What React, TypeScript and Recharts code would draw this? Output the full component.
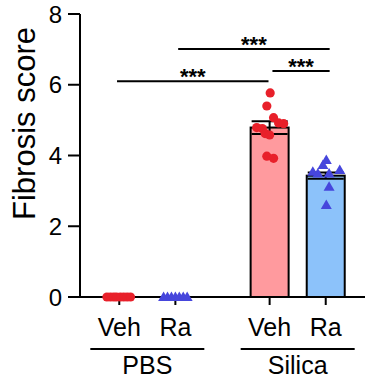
import React from "react"
import {
  ComposedChart,
  Bar,
  Scatter,
  ErrorBar,
  XAxis,
  YAxis,
  ReferenceLine,
} from "recharts"

// group positions on the x axis (numeric so the two treatments can sit apart)
const groupPos = [1, 2, 3.68, 4.68]
const groupLabels = ["Veh", "Ra", "Veh", "Ra"]
const groupMeans = [0, 0, 4.79, 3.43]
const groupSem = [0, 0, 0.18, 0.09]
const barColors = ["#ff9a9e", "#8cc2fa", "#ff9a9e", "#8cc2fa"]

const treatments = ["PBS", "Silica"]
const treatmentPos = [1.5, 4.18]

// individual animals
const pbsVehX = [0.78, 0.84, 0.9, 0.95, 1.02, 1.08, 1.14, 1.2]
const pbsVehY = [0, 0, 0, 0, 0, 0, 0, 0]
const pbsRaX = [1.79, 1.86, 1.93, 2.0, 2.07, 2.14, 2.21]
const pbsRaY = [0, 0, 0, 0, 0, 0, 0]
const silVehX = [3.69, 3.63, 3.75, 3.93, 3.84, 3.45, 3.55, 3.6, 3.68, 3.63, 3.75]
const silVehY = [5.77, 5.4, 5.07, 4.9, 4.92, 4.79, 4.76, 4.62, 4.58, 3.98, 3.92]
const silRaX = [4.69, 4.63, 4.45, 4.54, 4.93, 4.74, 4.74, 4.69]
const silRaY = [3.87, 3.73, 3.54, 3.49, 3.59, 3.49, 3.12, 2.6]

// significance brackets
const sigX1 = [0.96, 3.73, 2.05]
const sigX2 = [3.66, 4.75, 4.75]
const sigY = [6.1, 6.39, 7.01]
const sigText = ["***", "***", "***"]

const RED = "#e8202a"
const BLUE = "#4646dc"
const BAR_W = 38

const barData = groupPos.map((x, i) => ({ x, mean: groupMeans[i], sem: groupSem[i] }))
const meanData = barData.filter((d) => d.sem > 0).map((d) => ({ x: d.x, y: d.mean, sem: d.sem }))
const toPoints = (xs: number[], ys: number[]) => xs.map((x, i) => ({ x, y: ys[i] }))

const BarShape = (props: any) => {
  const { x, y, width, height, index } = props
  if (!height || height <= 0) return <g />
  const cx = x + width / 2
  return (
    <rect
      x={cx - BAR_W / 2}
      y={y}
      width={BAR_W}
      height={height}
      fill={barColors[index]}
      stroke="#000"
      strokeWidth={2}
    />
  )
}

const Dot = (props: any) => <circle cx={props.cx} cy={props.cy} r={4.6} fill={RED} />
const Tri = (props: any) => {
  const { cx, cy } = props
  return <polygon points={`${cx},${cy - 5.5} ${cx + 5.5},${cy + 4} ${cx - 5.5},${cy + 4}`} fill={BLUE} />
}
const NoShape = () => <g />

const TreatmentTick = (props: any) => {
  const { x, y, payload } = props
  const i = treatmentPos.indexOf(payload.value)
  return (
    <g>
      <line x1={x - 57} x2={x + 57} y1={y + 7} y2={y + 7} stroke="#000" strokeWidth={2} />
      <text x={x} y={y + 32} textAnchor="middle" fontSize={25} fill="#000">
        {treatments[i]}
      </text>
    </g>
  )
}

const YLabel = (props: any) => {
  const { viewBox } = props
  const cx = viewBox.x + 24
  const cy = viewBox.y + viewBox.height / 2 - 32
  return (
    <text
      x={cx}
      y={cy}
      transform={`rotate(-90, ${cx}, ${cy})`}
      textAnchor="middle"
      dominantBaseline="central"
      fontSize={31}
      fill="#000"
    >
      Fibrosis score
    </text>
  )
}

export default function App() {
  return (
    <div
      style={{
        position: "absolute",
        left: 0,
        top: 0,
        width: 388,
        height: 388,
        background: "#fff",
        fontFamily: "'Liberation Sans', Arial, sans-serif",
      }}
    >
      <ComposedChart
        width={388}
        height={388}
        data={barData}
        margin={{ top: 14, right: 23, bottom: 0, left: 0 }}
      >
        <XAxis
          dataKey="x"
          type="number"
          domain={[0.3, 5.38]}
          ticks={groupPos}
          interval={0}
          tickFormatter={(v) => groupLabels[groupPos.indexOf(v)]}
          height={45}
          tickSize={8}
          tickMargin={13}
          tick={{ fontSize: 25, fill: "#000" }}
          axisLine={{ stroke: "#000", strokeWidth: 2 }}
          tickLine={{ stroke: "#000", strokeWidth: 2 }}
        />
        <XAxis
          xAxisId="grp"
          dataKey="x"
          type="number"
          domain={[0.3, 5.38]}
          ticks={treatmentPos}
          interval={0}
          height={46}
          tickSize={0}
          tickMargin={0}
          axisLine={false}
          tickLine={false}
          tick={<TreatmentTick />}
        />
        <YAxis
          dataKey="y"
          type="number"
          domain={[0, 8]}
          ticks={[0, 2, 4, 6, 8]}
          width={80}
          tickSize={12}
          tickMargin={6}
          tick={{ fontSize: 24, fill: "#000" }}
          axisLine={{ stroke: "#000", strokeWidth: 2 }}
          tickLine={{ stroke: "#000", strokeWidth: 2 }}
          label={<YLabel />}
        />
        <Bar dataKey="mean" shape={<BarShape />} isAnimationActive={false} />
        <Scatter data={toPoints(pbsVehX, pbsVehY)} shape={<Dot />} isAnimationActive={false} />
        <Scatter data={toPoints(pbsRaX, pbsRaY)} shape={<Tri />} isAnimationActive={false} />
        <Scatter data={toPoints(silVehX, silVehY)} shape={<Dot />} isAnimationActive={false} />
        <Scatter data={toPoints(silRaX, silRaY)} shape={<Tri />} isAnimationActive={false} />
        <Scatter data={meanData} shape={<NoShape />} isAnimationActive={false}>
          <ErrorBar dataKey="sem" direction="y" width={18} stroke="#000" strokeWidth={2} />
        </Scatter>
        {sigY.map((y, i) => (
          <ReferenceLine
            key={i}
            segment={[
              { x: sigX1[i], y },
              { x: sigX2[i], y },
            ]}
            stroke="#000"
            strokeWidth={2}
            label={{ value: sigText[i], position: "top", offset: -3, fontSize: 22, fontWeight: "bold", fill: "#000" }}
          />
        ))}
      </ComposedChart>
    </div>
  )
}
